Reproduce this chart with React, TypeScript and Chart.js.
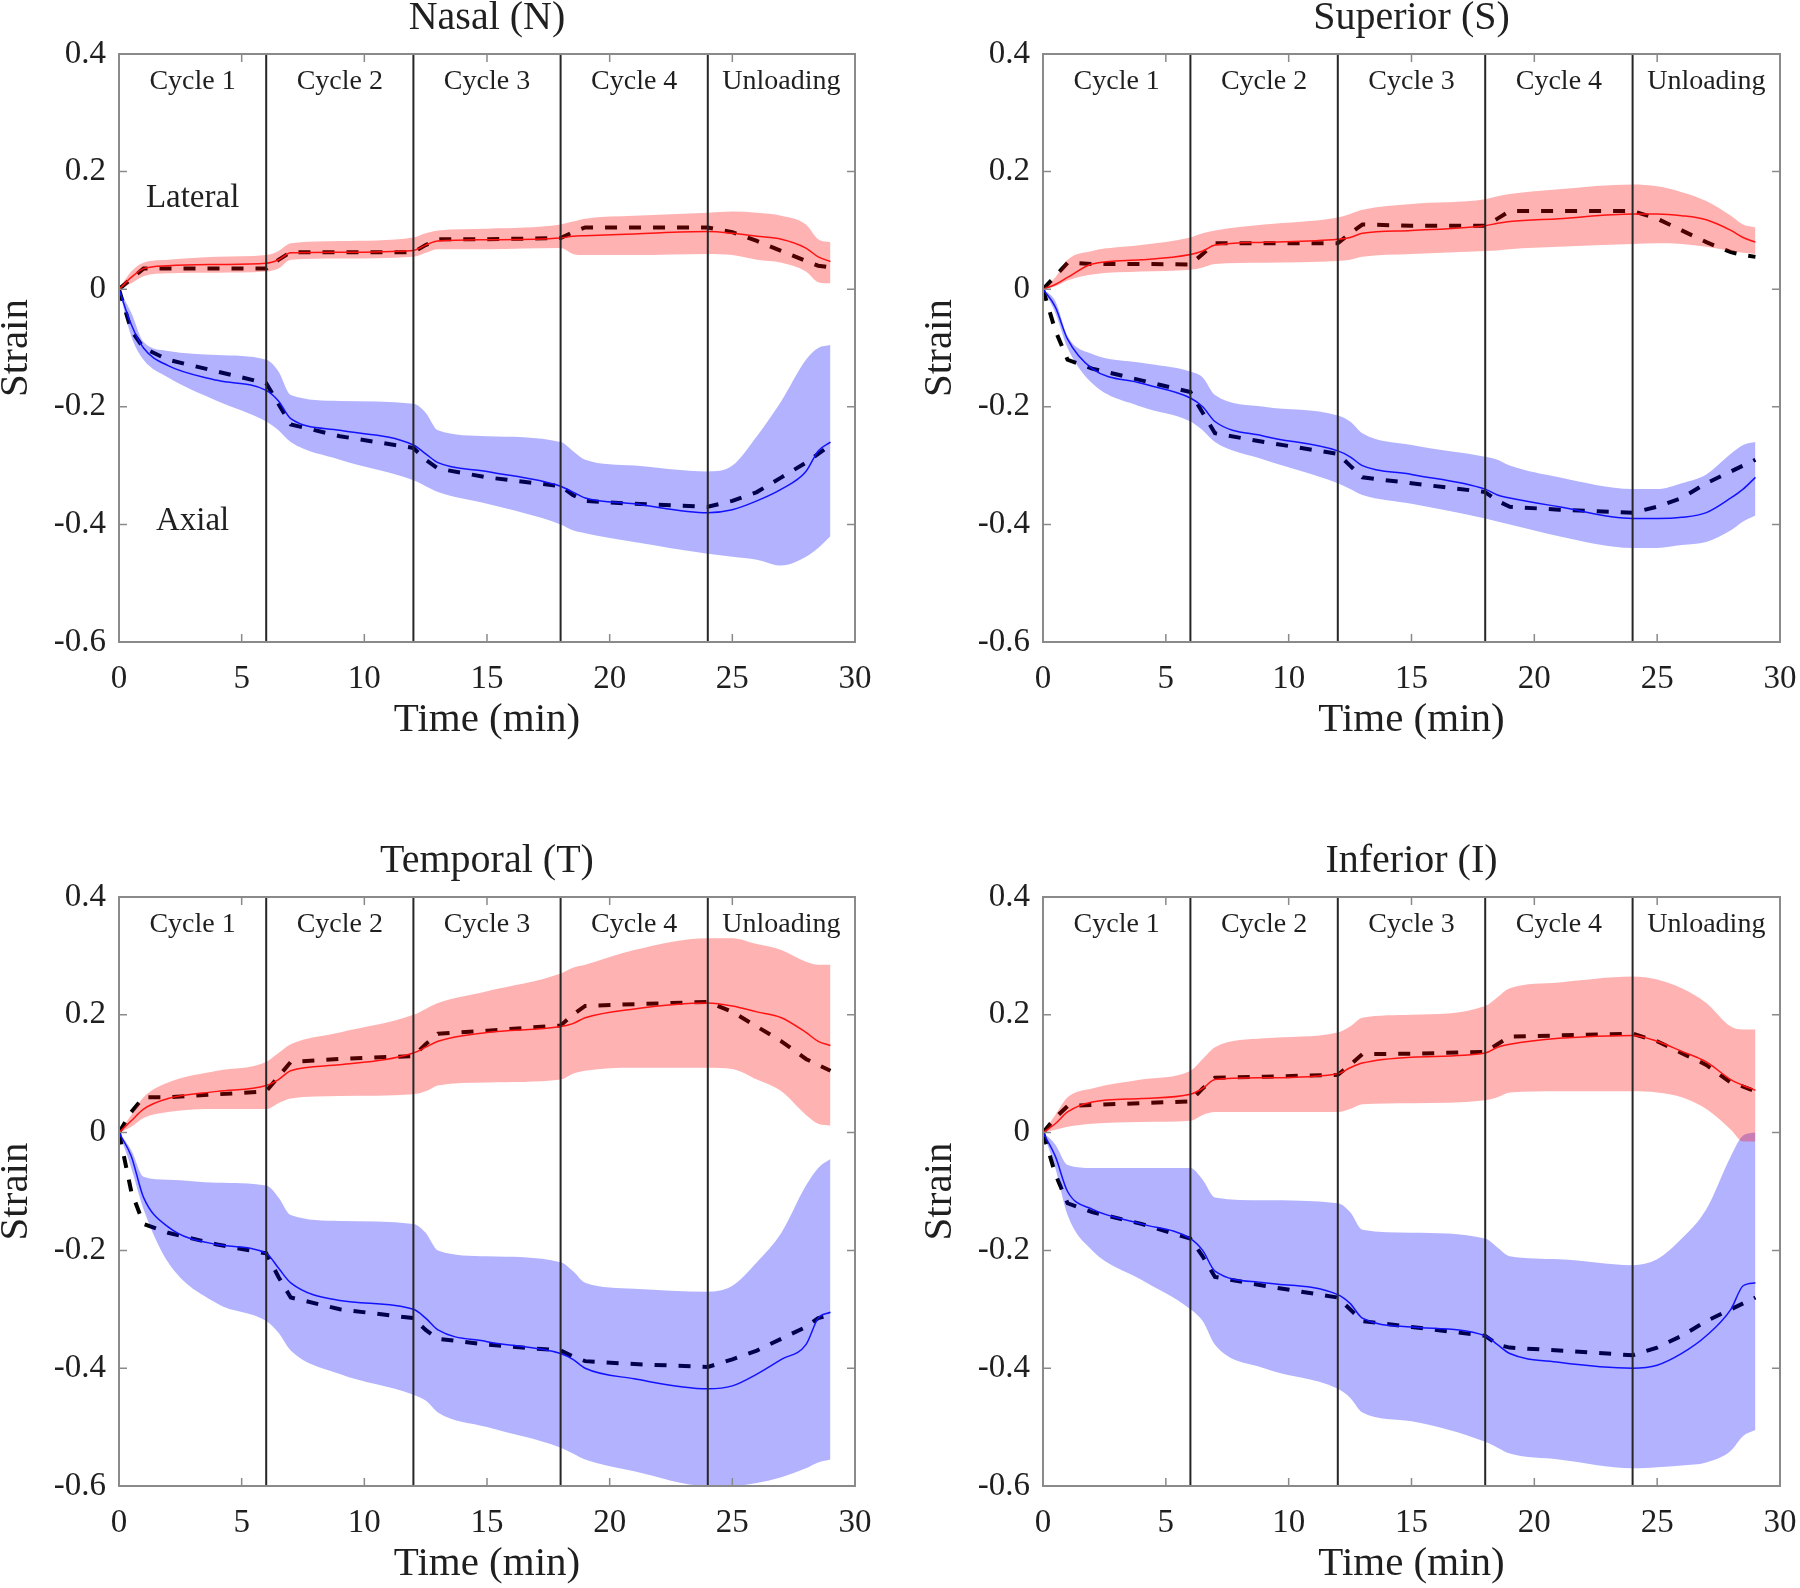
import React, { useEffect, useRef } from "react";
import { Chart, registerables } from "chart.js";

Chart.register(...registerables);

// ---------------- data ----------------
const TIME = [0, 0.5, 1, 2, 4, 6, 6.5, 7, 9, 12, 12.5, 13, 15, 18, 18.5, 19, 21, 24, 25, 26, 27, 28, 28.5, 29];
const CYCLE_BOUNDARIES = [6, 12, 18, 24];
const PHASE_LABELS = ["Cycle 1", "Cycle 2", "Cycle 3", "Cycle 4", "Unloading"];
const PHASE_CENTERS = [3, 9, 15, 21, 27];
const X_TICKS = [0, 5, 10, 15, 20, 25, 30];
const Y_TICKS = [0.4, 0.2, 0, -0.2, -0.4, -0.6];
const PANEL_TITLES = ["Nasal (N)", "Superior (S)", "Temporal (T)", "Inferior (I)"];
const NOTE_LABELS = ["Lateral", "Axial"];
const NOTE_X = [3, 3];
const NOTE_Y = [0.155, -0.395];

// Nasal
const nasalLatMean = [0, 0.02, 0.035, 0.04, 0.042, 0.044, 0.05, 0.062, 0.063, 0.066, 0.075, 0.082, 0.084, 0.087, 0.09, 0.091, 0.094, 0.098, 0.095, 0.09, 0.085, 0.07, 0.055, 0.047];
const nasalLatUpper = [0, 0.03, 0.045, 0.05, 0.055, 0.058, 0.065, 0.078, 0.082, 0.088, 0.095, 0.1, 0.103, 0.11, 0.115, 0.12, 0.125, 0.13, 0.132, 0.13, 0.125, 0.11, 0.085, 0.08];
const nasalLatLower = [0, 0.01, 0.022, 0.027, 0.028, 0.03, 0.035, 0.05, 0.052, 0.055, 0.062, 0.068, 0.068, 0.07, 0.06, 0.058, 0.058, 0.06, 0.058, 0.05, 0.045, 0.03, 0.012, 0.01];
const nasalLatModel = [0, 0.018, 0.035, 0.035, 0.035, 0.035, 0.05, 0.063, 0.063, 0.063, 0.075, 0.085, 0.085, 0.087, 0.097, 0.105, 0.105, 0.105, 0.097, 0.082, 0.065, 0.048, 0.04, 0.037];
const nasalAxMean = [0, -0.06, -0.1, -0.13, -0.155, -0.172, -0.19, -0.22, -0.24, -0.265, -0.28, -0.295, -0.31, -0.335, -0.345, -0.355, -0.365, -0.38, -0.375, -0.36, -0.34, -0.31, -0.275, -0.26];
const nasalAxUpper = [0, -0.04, -0.09, -0.105, -0.112, -0.12, -0.14, -0.18, -0.19, -0.195, -0.21, -0.24, -0.25, -0.26, -0.275, -0.29, -0.3, -0.31, -0.3, -0.25, -0.19, -0.12, -0.1, -0.095];
const nasalAxLower = [0, -0.08, -0.12, -0.15, -0.19, -0.225, -0.24, -0.26, -0.29, -0.325, -0.335, -0.345, -0.365, -0.4, -0.41, -0.415, -0.43, -0.45, -0.455, -0.46, -0.47, -0.455, -0.44, -0.42];
const nasalAxModel = [0, -0.07, -0.1, -0.12, -0.14, -0.16, -0.195, -0.23, -0.25, -0.27, -0.29, -0.305, -0.32, -0.335, -0.35, -0.36, -0.365, -0.37, -0.36, -0.345, -0.32, -0.295, -0.28, -0.265];

// Superior
const superiorLatMean = [0, 0.008, 0.02, 0.043, 0.05, 0.059, 0.065, 0.075, 0.08, 0.085, 0.088, 0.095, 0.1, 0.108, 0.112, 0.115, 0.12, 0.128, 0.128, 0.125, 0.118, 0.1, 0.088, 0.08];
const superiorLatUpper = [0, 0.02, 0.05, 0.065, 0.075, 0.088, 0.095, 0.1, 0.11, 0.122, 0.128, 0.135, 0.145, 0.153, 0.158, 0.162, 0.17, 0.178, 0.175, 0.165, 0.15, 0.125, 0.11, 0.105];
const superiorLatLower = [0, 0.005, 0.015, 0.025, 0.03, 0.033, 0.037, 0.043, 0.045, 0.048, 0.05, 0.055, 0.06, 0.065, 0.066, 0.068, 0.072, 0.077, 0.078, 0.077, 0.072, 0.065, 0.062, 0.06];
const superiorLatModel = [0, 0.022, 0.045, 0.043, 0.043, 0.042, 0.06, 0.078, 0.078, 0.078, 0.095, 0.11, 0.108, 0.108, 0.12, 0.133, 0.133, 0.133, 0.12, 0.1, 0.08, 0.063, 0.058, 0.055];
const superiorAxMean = [0, -0.03, -0.085, -0.135, -0.16, -0.185, -0.2, -0.225, -0.25, -0.275, -0.285, -0.3, -0.315, -0.34, -0.35, -0.355, -0.37, -0.39, -0.39, -0.388, -0.38, -0.355, -0.34, -0.32];
const superiorAxUpper = [0, -0.02, -0.08, -0.11, -0.125, -0.14, -0.15, -0.18, -0.2, -0.215, -0.225, -0.245, -0.265, -0.285, -0.29, -0.3, -0.32, -0.34, -0.34, -0.33, -0.315, -0.28, -0.265, -0.26];
const superiorAxLower = [0, -0.04, -0.1, -0.16, -0.2, -0.225, -0.24, -0.26, -0.29, -0.33, -0.34, -0.35, -0.365, -0.39, -0.395, -0.4, -0.42, -0.44, -0.44, -0.435, -0.43, -0.41, -0.395, -0.385];
const superiorAxModel = [0, -0.07, -0.12, -0.135, -0.155, -0.175, -0.21, -0.245, -0.26, -0.28, -0.3, -0.32, -0.33, -0.345, -0.36, -0.37, -0.375, -0.38, -0.37, -0.355, -0.33, -0.31, -0.3, -0.29];

// Temporal
const temporalLatMean = [0, 0.02, 0.04, 0.058, 0.07, 0.08, 0.09, 0.105, 0.115, 0.135, 0.145, 0.155, 0.17, 0.18, 0.185, 0.195, 0.21, 0.22, 0.215, 0.205, 0.195, 0.17, 0.155, 0.148];
const temporalLatUpper = [0, 0.03, 0.06, 0.085, 0.105, 0.12, 0.135, 0.15, 0.17, 0.2, 0.21, 0.22, 0.24, 0.27, 0.28, 0.285, 0.31, 0.33, 0.33, 0.32, 0.31, 0.29, 0.285, 0.285];
const temporalLatLower = [0, 0.01, 0.025, 0.035, 0.04, 0.04, 0.05, 0.058, 0.062, 0.065, 0.07, 0.08, 0.085, 0.09, 0.1, 0.105, 0.11, 0.11, 0.108, 0.09, 0.07, 0.03, 0.015, 0.012];
const temporalLatModel = [0, 0.035, 0.06, 0.06, 0.065, 0.07, 0.095, 0.12, 0.125, 0.13, 0.15, 0.168, 0.173, 0.182, 0.2, 0.215, 0.218, 0.222, 0.205, 0.18, 0.155, 0.125, 0.115, 0.105];
const temporalAxMean = [0, -0.04, -0.11, -0.16, -0.19, -0.205, -0.23, -0.255, -0.285, -0.3, -0.315, -0.335, -0.355, -0.375, -0.385, -0.4, -0.418, -0.435, -0.43, -0.41, -0.385, -0.36, -0.315, -0.305];
const temporalAxUpper = [0, -0.03, -0.075, -0.08, -0.085, -0.09, -0.11, -0.14, -0.15, -0.155, -0.17, -0.2, -0.21, -0.22, -0.235, -0.255, -0.265, -0.27, -0.26, -0.22, -0.17, -0.09, -0.06, -0.045];
const temporalAxLower = [0, -0.06, -0.13, -0.22, -0.29, -0.32, -0.34, -0.37, -0.41, -0.445, -0.455, -0.475, -0.5, -0.535, -0.545, -0.555, -0.575, -0.6, -0.6, -0.595, -0.585, -0.57, -0.56, -0.555];
const temporalAxModel = [0, -0.1, -0.155, -0.17, -0.19, -0.205, -0.245, -0.28, -0.3, -0.315, -0.335, -0.35, -0.36, -0.37, -0.38, -0.388, -0.393, -0.398, -0.385, -0.37, -0.35, -0.33, -0.315, -0.31];

// Inferior
const inferiorLatMean = [0, 0.015, 0.035, 0.052, 0.058, 0.065, 0.075, 0.09, 0.093, 0.1, 0.11, 0.118, 0.128, 0.135, 0.145, 0.15, 0.16, 0.165, 0.155, 0.138, 0.12, 0.09, 0.08, 0.072];
const inferiorLatUpper = [0, 0.03, 0.06, 0.075, 0.09, 0.105, 0.125, 0.145, 0.16, 0.17, 0.18, 0.195, 0.2, 0.215, 0.23, 0.245, 0.255, 0.265, 0.26, 0.245, 0.22, 0.18, 0.175, 0.175];
const inferiorLatLower = [0, 0.005, 0.01, 0.015, 0.018, 0.02, 0.03, 0.035, 0.035, 0.035, 0.04, 0.048, 0.05, 0.055, 0.06, 0.068, 0.07, 0.07, 0.068, 0.06, 0.04, 0.005, -0.015, -0.015];
const inferiorLatModel = [0, 0.025, 0.045, 0.047, 0.05, 0.053, 0.075, 0.093, 0.095, 0.098, 0.115, 0.133, 0.134, 0.137, 0.15, 0.163, 0.165, 0.168, 0.155, 0.135, 0.115, 0.085, 0.078, 0.07];
const inferiorAxMean = [0, -0.04, -0.1, -0.13, -0.155, -0.18, -0.2, -0.235, -0.255, -0.275, -0.29, -0.315, -0.33, -0.345, -0.36, -0.375, -0.39, -0.4, -0.395, -0.375, -0.345, -0.3, -0.26, -0.255];
const inferiorAxUpper = [0, -0.02, -0.055, -0.06, -0.06, -0.06, -0.08, -0.11, -0.115, -0.12, -0.135, -0.165, -0.17, -0.18, -0.195, -0.21, -0.215, -0.225, -0.215, -0.18, -0.13, -0.04, -0.005, 0];
const inferiorAxLower = [0, -0.06, -0.14, -0.2, -0.25, -0.3, -0.32, -0.36, -0.4, -0.435, -0.45, -0.475, -0.49, -0.525, -0.535, -0.545, -0.555, -0.57, -0.568, -0.565, -0.56, -0.54, -0.515, -0.505];
const inferiorAxModel = [0, -0.07, -0.12, -0.135, -0.155, -0.18, -0.21, -0.245, -0.26, -0.28, -0.3, -0.32, -0.33, -0.345, -0.36, -0.365, -0.37, -0.378, -0.365, -0.345, -0.32, -0.3, -0.29, -0.28];

// ---------------- styling ----------------
const SERIF = '"Liberation Serif", "Times New Roman", serif';
const TEXT = "#1f1f1f";
const BOX = "#8a8a8a";
const RED_FILL = "rgba(255, 0, 0, 0.3)";
const BLUE_FILL = "rgba(0, 0, 255, 0.3)";

type PanelSpec = {
  title: string;
  left: number;
  top: number;
  width: number;
  padding: { left: number; top: number; right: number; bottom: number };
  latMean: number[];
  latUpper: number[];
  latLower: number[];
  latModel: number[];
  axMean: number[];
  axUpper: number[];
  axLower: number[];
  axModel: number[];
  notes: boolean;
};

const PANELS: PanelSpec[] = [
  {
    title: PANEL_TITLES[0], left: 0, top: 0, width: 900,
    padding: { left: 0, top: 54, right: 45, bottom: 92 },
    latMean: nasalLatMean, latUpper: nasalLatUpper, latLower: nasalLatLower, latModel: nasalLatModel,
    axMean: nasalAxMean, axUpper: nasalAxUpper, axLower: nasalAxLower, axModel: nasalAxModel,
    notes: true,
  },
  {
    title: PANEL_TITLES[1], left: 900, top: 0, width: 940,
    padding: { left: 24, top: 54, right: 60, bottom: 92 },
    latMean: superiorLatMean, latUpper: superiorLatUpper, latLower: superiorLatLower, latModel: superiorLatModel,
    axMean: superiorAxMean, axUpper: superiorAxUpper, axLower: superiorAxLower, axModel: superiorAxModel,
    notes: false,
  },
  {
    title: PANEL_TITLES[2], left: 0, top: 794, width: 900,
    padding: { left: 0, top: 103, right: 45, bottom: 42 },
    latMean: temporalLatMean, latUpper: temporalLatUpper, latLower: temporalLatLower, latModel: temporalLatModel,
    axMean: temporalAxMean, axUpper: temporalAxUpper, axLower: temporalAxLower, axModel: temporalAxModel,
    notes: false,
  },
  {
    title: PANEL_TITLES[3], left: 900, top: 794, width: 940,
    padding: { left: 24, top: 103, right: 60, bottom: 42 },
    latMean: inferiorLatMean, latUpper: inferiorLatUpper, latLower: inferiorLatLower, latModel: inferiorLatModel,
    axMean: inferiorAxMean, axUpper: inferiorAxUpper, axLower: inferiorAxLower, axModel: inferiorAxModel,
    notes: false,
  },
];

const pts = (ys: number[]) => TIME.map((t, i) => ({ x: t, y: ys[i] }));

const decorPlugin = {
  id: "decor",
  afterDatasetsDraw(chart: any, _args: any, opts: any) {
    const { ctx, chartArea: ca } = chart;
    const x = chart.scales.x;
    const y = chart.scales.y;
    ctx.save();

    // cycle boundaries
    ctx.strokeStyle = "#262626";
    ctx.lineWidth = 2;
    for (const b of CYCLE_BOUNDARIES) {
      const px = x.getPixelForValue(b);
      ctx.beginPath();
      ctx.moveTo(px, ca.top);
      ctx.lineTo(px, ca.bottom);
      ctx.stroke();
    }

    // axes box
    ctx.strokeStyle = BOX;
    ctx.lineWidth = 2;
    ctx.strokeRect(ca.left, ca.top, ca.right - ca.left, ca.bottom - ca.top);

    // inward ticks on all four sides
    const tl = 8;
    ctx.lineWidth = 1.5;
    for (const v of X_TICKS) {
      const px = x.getPixelForValue(v);
      ctx.beginPath();
      ctx.moveTo(px, ca.bottom);
      ctx.lineTo(px, ca.bottom - tl);
      ctx.moveTo(px, ca.top);
      ctx.lineTo(px, ca.top + tl);
      ctx.stroke();
    }
    for (const v of Y_TICKS) {
      const py = y.getPixelForValue(v);
      ctx.beginPath();
      ctx.moveTo(ca.left, py);
      ctx.lineTo(ca.left + tl, py);
      ctx.moveTo(ca.right, py);
      ctx.lineTo(ca.right - tl, py);
      ctx.stroke();
    }

    ctx.fillStyle = TEXT;
    ctx.textAlign = "center";
    ctx.textBaseline = "middle";

    // phase labels
    ctx.font = `28px ${SERIF}`;
    PHASE_LABELS.forEach((lab, i) => {
      ctx.fillText(lab, x.getPixelForValue(PHASE_CENTERS[i]), y.getPixelForValue(0.353));
    });

    // notes
    if (opts.notes) {
      ctx.font = `33px ${SERIF}`;
      NOTE_LABELS.forEach((lab, i) => {
        ctx.fillText(lab, x.getPixelForValue(NOTE_X[i]), y.getPixelForValue(NOTE_Y[i]));
      });
    }

    // title
    const cx = (ca.left + ca.right) / 2;
    ctx.font = `40px ${SERIF}`;
    ctx.fillText(opts.title, cx, ca.top - 36);

    // x title
    ctx.font = `41px ${SERIF}`;
    ctx.fillText("Time (min)", cx, ca.bottom + 78);

    // y title
    ctx.save();
    ctx.translate(ca.left - 103, (ca.top + ca.bottom) / 2);
    ctx.rotate(-Math.PI / 2);
    ctx.fillText("Strain", 0, 0);
    ctx.restore();

    ctx.restore();
  },
};

function Panel({ spec }: { spec: PanelSpec }) {
  const ref = useRef<HTMLCanvasElement | null>(null);
  useEffect(() => {
    if (!ref.current) return;
    const bandCommon = {
      pointRadius: 0,
      borderWidth: 0,
      borderColor: "transparent",
      cubicInterpolationMode: "monotone" as const,
    };
    const chart = new Chart(ref.current, {
      type: "line",
      data: {
        datasets: [
          { ...bandCommon, label: "Lateral upper", data: pts(spec.latUpper), backgroundColor: RED_FILL, fill: "+1" },
          { ...bandCommon, label: "Lateral lower", data: pts(spec.latLower), backgroundColor: RED_FILL, fill: false },
          { ...bandCommon, label: "Axial upper", data: pts(spec.axUpper), backgroundColor: BLUE_FILL, fill: "+1" },
          { ...bandCommon, label: "Axial lower", data: pts(spec.axLower), backgroundColor: BLUE_FILL, fill: false },
          {
            label: "Lateral mean", data: pts(spec.latMean), borderColor: "#ff1a1a", borderWidth: 1.5,
            pointRadius: 0, fill: false, cubicInterpolationMode: "monotone",
          },
          {
            label: "Axial mean", data: pts(spec.axMean), borderColor: "#1a1aff", borderWidth: 1.5,
            pointRadius: 0, fill: false, cubicInterpolationMode: "monotone",
          },
          {
            label: "Lateral model", data: pts(spec.latModel), borderColor: "#000000", borderWidth: 4,
            borderDash: [12, 12], borderCapStyle: "butt", pointRadius: 0, fill: false, tension: 0,
          },
          {
            label: "Axial model", data: pts(spec.axModel), borderColor: "#000000", borderWidth: 4,
            borderDash: [12, 12], borderCapStyle: "butt", pointRadius: 0, fill: false, tension: 0,
          },
        ],
      },
      options: {
        responsive: false,
        animation: false,
        events: [],
        layout: { padding: spec.padding },
        plugins: {
          legend: { display: false },
          tooltip: { enabled: false },
          title: { display: false },
          decor: { title: spec.title, notes: spec.notes },
        } as any,
        scales: {
          x: {
            type: "linear",
            min: 0,
            max: 30,
            grid: { display: false, drawTicks: false },
            border: { display: false },
            afterFit: (s: any) => { s.height = 60; },
            afterBuildTicks: (s: any) => { s.ticks = X_TICKS.map((v) => ({ value: v })); },
            ticks: {
              padding: 18,
              color: TEXT,
              font: { family: SERIF, size: 33 },
              maxRotation: 0,
              autoSkip: false,
              callback: (v: any) => String(v),
            },
          },
          y: {
            type: "linear",
            min: -0.6,
            max: 0.4,
            grid: { display: false, drawTicks: false },
            border: { display: false },
            afterFit: (s: any) => { s.width = 119; },
            afterBuildTicks: (s: any) => { s.ticks = Y_TICKS.map((v) => ({ value: v })); },
            ticks: {
              padding: 13,
              color: TEXT,
              font: { family: SERIF, size: 33 },
              autoSkip: false,
              callback: (v: any) => String(Math.round(Number(v) * 10) / 10),
            },
          },
        },
      },
      plugins: [decorPlugin],
    });
    return () => chart.destroy();
  }, [spec]);

  return (
    <div style={{ position: "absolute", left: spec.left, top: spec.top, width: spec.width, height: 794 }}>
      <canvas ref={ref} width={spec.width} height={794} style={{ display: "block" }} />
    </div>
  );
}

export default function App() {
  return (
    <div style={{ position: "absolute", left: 0, top: 0, width: 1800, height: 1588, background: "#ffffff", overflow: "hidden" }}>
      {PANELS.map((p) => (
        <Panel key={p.title} spec={p} />
      ))}
    </div>
  );
}
